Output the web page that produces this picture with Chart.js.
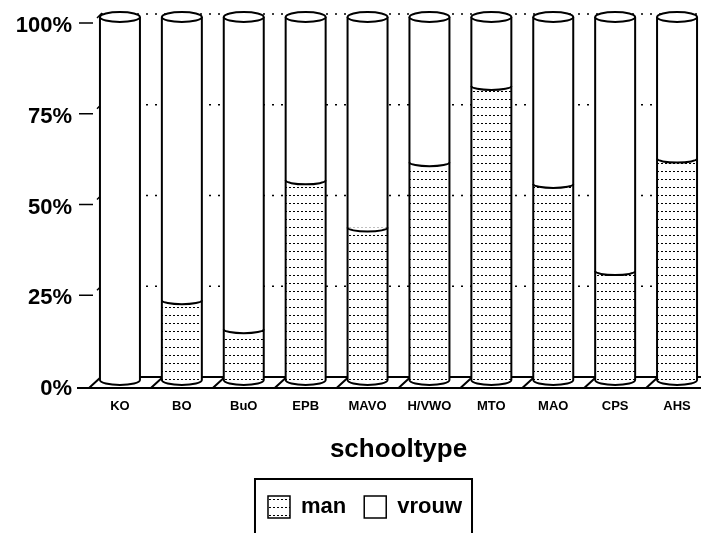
<!DOCTYPE html>
<html>
<head>
<meta charset="utf-8">
<script src="https://cdn.jsdelivr.net/npm/chart.js@4"></script>
<style>
  html, body { margin: 0; padding: 0; background: #fff; overflow: hidden; }
</style>
</head>
<body>
<canvas id="chart1" width="708" height="533"></canvas>
<script>
// data (percent man / vrouw per schooltype)
const categories = ["KO", "BO", "BuO", "EPB", "MAVO", "H/VWO", "MTO", "MAO", "CPS", "AHS"];
const man = [0, 22, 14, 55, 42, 60, 81, 54, 30, 61];
const vrouw = [100, 78, 86, 45, 58, 40, 19, 46, 70, 39];
const yTicks = ["0%", "25%", "50%", "75%", "100%"];

Chart.defaults.font.family = "'Liberation Sans', Arial, sans-serif";
Chart.defaults.color = "#000";

// dotted fill for "man"
function dots() {
    const c = document.createElement("canvas");
    c.width = 4; c.height = 8;
    const g = c.getContext("2d");
    g.fillStyle = "#fff";
    g.fillRect(0, 0, 4, 8);
    g.fillStyle = "#000";
    g.fillRect(1, 3, 2, 1);
    return g.createPattern(c, "repeat");
}
const manFill = dots();

// back wall, floor, tick marks, cylinders and legend frame
const wall = {
    id: "wall",
    afterLayout(chart) {
        // move the legend a bit to the right, like in the original
        chart.legend.left += 6;
        chart.legend.right += 6;
    },
    beforeDatasetsDraw(chart) {
        const ctx = chart.ctx, area = chart.chartArea, y = chart.scales.y, x = chart.scales.x;
        ctx.save();
        ctx.strokeStyle = "#000";
        // dotted lines on the back wall
        ctx.lineWidth = 1.5;
        ctx.setLineDash([2, 7]);
        [25, 50, 75, 100].forEach(v => {
            const py = y.getPixelForValue(v) - 3;
            ctx.beginPath();
            ctx.moveTo(area.left + 12, py);
            ctx.lineTo(area.right, py);
            ctx.stroke();
        });
        ctx.setLineDash([]);
        // tick marks  "-'"
        [25, 50, 75, 100].forEach(v => {
            const py = y.getPixelForValue(v);
            ctx.beginPath();
            ctx.moveTo(area.left - 10, py + 6);
            ctx.lineTo(area.left + 4, py + 6);
            ctx.moveTo(area.left + 8, py + 1);
            ctx.lineTo(area.left + 13, py - 4);
            ctx.stroke();
        });
        // floor
        const base = y.getPixelForValue(0);
        const yF = base + 8, yB = base - 3;
        ctx.lineWidth = 2;
        ctx.beginPath();
        ctx.moveTo(area.left - 12, yF);
        ctx.lineTo(area.right, yF);
        ctx.moveTo(area.left + 12, yB);
        ctx.lineTo(area.right, yB);
        const step = x.width / categories.length;
        for (let i = 0; i < categories.length; i++) {
            const gx = area.left + i * step;
            ctx.moveTo(gx, yF);
            ctx.lineTo(gx + 12, yB);
        }
        ctx.stroke();
        ctx.restore();
    },
    afterDatasetsDraw(chart) {
        const ctx = chart.ctx;
        const m0 = chart.getDatasetMeta(0), m1 = chart.getDatasetMeta(1);
        ctx.save();
        ctx.strokeStyle = "#000";
        ctx.lineWidth = 2;
        m0.data.forEach((bar, i) => {
            const top = m1.data[i];
            const cx = bar.x, hw = bar.width / 2;
            const yBase = bar.base, yMid = bar.y, yTop = top.y;
            // bottom of cylinder
            ctx.beginPath();
            ctx.ellipse(cx, yBase, hw, 5, 0, 0, Math.PI);
            ctx.fillStyle = man[i] > 0 ? manFill : "#fff";
            ctx.fill();
            ctx.stroke();
            // border between man and vrouw
            if (man[i] > 0 && man[i] < 100) {
                ctx.beginPath();
                ctx.ellipse(cx, yMid, hw, 4, 0, 0, Math.PI);
                ctx.fillStyle = "#fff";
                ctx.fill();
                ctx.stroke();
            }
            // sides
            ctx.beginPath();
            ctx.moveTo(cx - hw, yTop);
            ctx.lineTo(cx - hw, yBase);
            ctx.moveTo(cx + hw, yTop);
            ctx.lineTo(cx + hw, yBase);
            ctx.stroke();
            // top
            ctx.beginPath();
            ctx.ellipse(cx, yTop, hw, 5, 0, 0, Math.PI * 2);
            ctx.fillStyle = "#fff";
            ctx.fill();
            ctx.stroke();
        });
        ctx.restore();
    },
    afterDraw(chart) {
        // frame round the legend (open at the bottom)
        const boxes = chart.legend.legendHitBoxes;
        if (!boxes.length) return;
        const ctx = chart.ctx;
        const l = Math.min(...boxes.map(b => b.left)) - 13;
        const r = Math.max(...boxes.map(b => b.left + b.width)) + 10;
        const t = boxes[0].top + boxes[0].height / 2 - 28;
        ctx.save();
        ctx.strokeStyle = "#000";
        ctx.lineWidth = 2;
        ctx.beginPath();
        ctx.moveTo(l, chart.height);
        ctx.lineTo(l, t);
        ctx.lineTo(r, t);
        ctx.lineTo(r, chart.height);
        ctx.stroke();
        ctx.restore();
    }
};

const schoolCanvas = document.getElementById("chart1").getContext("2d");
const schoolChart = new Chart(schoolCanvas, {
    type: "bar",
    data: {
        labels: categories,
        datasets: [{
            label: "man",
            data: man,
            backgroundColor: manFill,
            borderWidth: 0
        }, {
            label: "vrouw",
            data: vrouw,
            backgroundColor: "#fff",
            borderWidth: 0
        }]
    },
    plugins: [wall],
    options: {
        responsive: false,
        animation: false,
        layout: {
            padding: { top: 17, left: 10, right: 0, bottom: 5 }
        },
        datasets: {
            bar: { categoryPercentage: 1, barPercentage: 0.646 }
        },
        scales: {
            x: {
                stacked: true,
                grid: { display: false, drawTicks: false },
                border: { display: false },
                ticks: { font: { size: 13, weight: "bold" }, padding: 19, maxRotation: 0, autoSkip: false },
                title: {
                    display: true,
                    text: "schooltype",
                    font: { size: 26, weight: "bold" },
                    padding: { top: 0, bottom: 13 }
                },
                afterFit(scale) { scale.height = 98; scale.paddingLeft = 0; scale.paddingRight = 0; }
            },
            y: {
                stacked: true,
                min: 0,
                max: 100,
                grid: { display: false, drawTicks: false },
                border: { display: false },
                ticks: {
                    stepSize: 25,
                    padding: 17,
                    labelOffset: 9,
                    font: { size: 22, weight: "bold" },
                    callback: (v, i) => yTicks[i]
                },
                afterFit(scale) { scale.width = 79; scale.paddingTop = 0; scale.paddingBottom = 0; }
            }
        },
        plugins: {
            tooltip: { enabled: false },
            legend: {
                position: "bottom",
                labels: {
                    boxWidth: 22,
                    boxHeight: 22,
                    padding: 18,
                    font: { size: 22, weight: "bold" },
                    generateLabels(chart) {
                        const items = Chart.defaults.plugins.legend.labels.generateLabels(chart);
                        items.forEach(it => { it.strokeStyle = "#000"; it.lineWidth = 1.5; });
                        return items;
                    }
                }
            }
        }
    }
});
</script>
</body>
</html>
